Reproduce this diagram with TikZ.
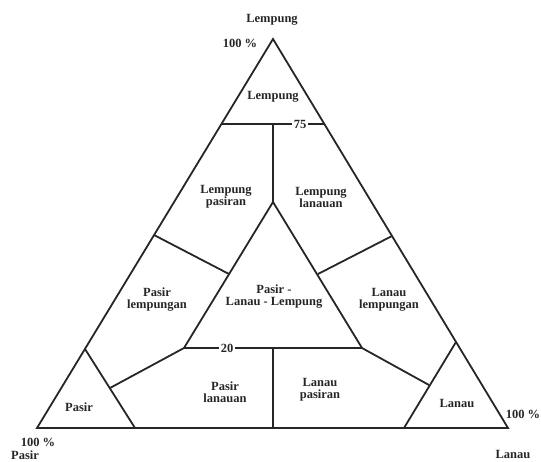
\documentclass[tikz,border=0pt]{standalone}
\usepackage{fontspec}
\setmainfont{Liberation Serif}
\begin{document}
\begin{tikzpicture}[x=1pt,y=-1pt,
  edge/.style={line width=1.8pt,black!85},
  lbl/.style={font=\bfseries\fontsize{12.5}{14}\selectfont,align=center,text=black!85,inner sep=1pt},
  tick/.style={lbl,fill=white,inner sep=2pt}]
\useasboundingbox (0,0) rectangle (541,461);
% vertices
\coordinate (A) at (273,39);
\coordinate (BL) at (37,428);
\coordinate (BR) at (508,428);
\coordinate (T75L) at (221.5,124);
\coordinate (T75R) at (324.5,124);
\coordinate (T75C) at (273,124);
\coordinate (IA) at (273,202);
\coordinate (IL) at (184,348);
\coordinate (IR) at (362,348);
\coordinate (IB) at (273,348);
\coordinate (IBB) at (273,428);
\coordinate (PLo) at (154,235);
\coordinate (PLi) at (229,274);
\coordinate (LLo) at (392,236);
\coordinate (LLi) at (318,274);
\coordinate (PA) at (85,349);
\coordinate (PB) at (135,428);
\coordinate (PM) at (110,388);
\coordinate (LA) at (456,342);
\coordinate (LB) at (404,428);
\coordinate (LM) at (429,385);
% outer triangle
\draw[edge] (A) -- (BL) -- (BR) -- cycle;
% 75 line
\draw[edge] (T75L) -- (T75R);
\node[tick] (n75) at (300,124) {75};
\draw[edge] (T75C) -- (IA);
% inner triangle
\draw[edge] (IA) -- (IL) -- (IR) -- cycle;
\node[tick] (n20) at (227,348) {20};
\draw[edge] (IB) -- (IBB);
% side partitions
\draw[edge] (PLo) -- (PLi);
\draw[edge] (LLo) -- (LLi);
% corner triangles
\draw[edge] (PA) -- (PB);
\draw[edge] (IL) -- (PM);
\draw[edge] (LA) -- (LB);
\draw[edge] (IR) -- (LM);
% labels
\node[lbl] (tLemp) at (272,20) {Lempung};
\node[lbl] (t100a) at (240,43) {100 \%};
\node[lbl] (lLemp) at (273,97) {Lempung};
\node[lbl] (lLP) at (226,197) {Lempung\\[-2pt]pasiran};
\node[lbl] (lLL) at (321,197) {Lempung\\[-2pt]lanauan};
\node[lbl] (lPL) at (157,300) {Pasir\\[-2pt]lempungan};
\node[lbl] (lLaL) at (389,300) {Lanau\\[-2pt]lempungan};
\node[lbl] (lPLL) at (274,297) {Pasir -\\[-2pt]Lanau - Lempung};
\node[lbl] (lPla) at (225,392) {Pasir\\[-2pt]lanauan};
\node[lbl] (lLpa) at (320,390) {Lanau\\[-2pt]pasiran};
\node[lbl] (lP) at (79,407) {Pasir};
\node[lbl] (lL) at (457,403) {Lanau};
\node[lbl] (t100b) at (38,442) {100 \%};
\node[lbl] (tPasir) at (25,455) {Pasir};
\node[lbl] (t100c) at (523,414) {100 \%};
\node[lbl] (tLanau) at (513,454) {Lanau};
\end{tikzpicture}
\end{document}
